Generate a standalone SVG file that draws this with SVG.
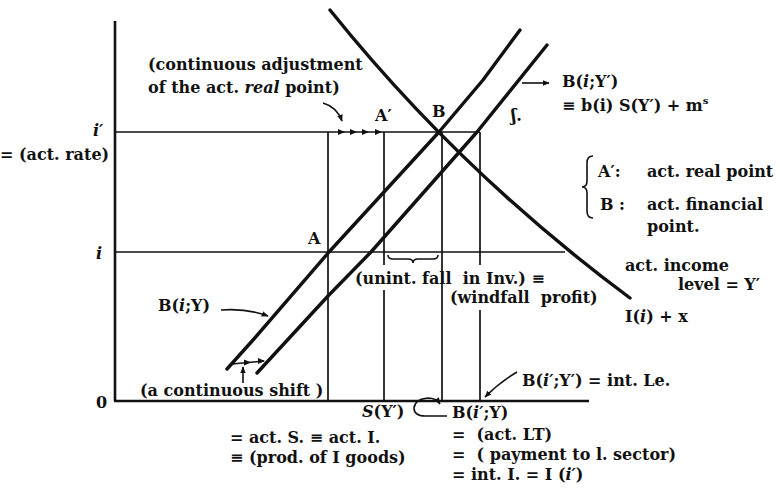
<svg xmlns="http://www.w3.org/2000/svg" width="780" height="488" viewBox="0 0 780 488">
<style>
  .t { font-family: "DejaVu Serif", "Liberation Serif", serif; font-size: 16px; font-weight: bold; fill: #111; white-space: pre; }
  .it { font-style: italic; }
  .ax { stroke: #111; stroke-width: 2.6; fill: none; }
  .grid { stroke: #111; stroke-width: 1.7; fill: none; }
  .curve { stroke: #111; stroke-width: 3.4; fill: none; stroke-linecap: round; stroke-linejoin: round; }
  .arr { stroke: #111; stroke-width: 1.6; fill: none; }
</style>
<defs>
  <marker id="ah" viewBox="0 0 10 10" refX="9" refY="5" markerWidth="7" markerHeight="7" orient="auto" markerUnits="userSpaceOnUse">
    <path d="M0,1 L10,5 L0,9 Z" fill="#111"/>
  </marker>
  <path id="tri" d="M0,0 L-7,-3 L-7,3 Z" fill="#111"/>
</defs>
<rect width="780" height="488" fill="#fff"/>

<g id="axes">
  <line class="ax" x1="115" y1="21" x2="115" y2="401"/>
  <line class="ax" x1="114" y1="401" x2="589" y2="401"/>
</g>

<g id="grid">
  <line class="grid" x1="115" y1="132" x2="480" y2="132"/>
  <line class="grid" x1="115" y1="252" x2="565" y2="252"/>
  <line class="grid" x1="328" y1="132" x2="328" y2="401"/>
  <line class="grid" x1="384" y1="132" x2="384" y2="265"/>
  <line class="grid" x1="384" y1="290" x2="384" y2="401"/>
  <line class="grid" x1="442" y1="132" x2="442" y2="401"/>
  <line class="grid" x1="480" y1="132" x2="480" y2="265"/>
  <line class="grid" x1="480" y1="310" x2="480" y2="401"/>
</g>

<g id="curves">
  <polyline id="B_iY" class="curve" points="227,369 253,340 329,252 439,132 483,80 520,30"/>
  <polyline id="B_iYp" class="curve" points="257,373 328,296 371,252 477,132 547,45"/>
  <path id="I_i" class="curve" d="M330,10 Q460,172 630,298"/>
</g>

<g id="connectors">
  <path class="arr" d="M323,103 Q337,107 342,121" marker-end="url(#ah)"/>
  <use href="#tri" x="345" y="132"/>
  <use href="#tri" x="357" y="132"/>
  <use href="#tri" x="369" y="132"/>
  <use href="#tri" x="382" y="132"/>
  <path class="arr" d="M221,310 Q246,308 268,316" marker-end="url(#ah)"/>
  <path class="arr" d="M522,83 L549,83" marker-end="url(#ah)"/>
  <path class="arr" d="M517,372 Q500,382 485,397" marker-end="url(#ah)"/>
  <path class="arr" d="M447,416 L425,416 Q414,416 414,408 Q415,399 428,398 Q436,398 440,404" marker-end="url(#ah)"/>
  <path class="arr" d="M243,383 L243,367" marker-end="url(#ah)"/>
  <path class="arr" d="M232,364 L264,361"/>
  <use href="#tri" x="251" y="362.5"/>
  <use href="#tri" x="265" y="361"/>
  <path class="arr" d="M388,255 Q388,259 393,259 L408,259 Q413,259 413,263 Q413,259 418,259 L433,259 Q438,259 438,255"/>
  <path class="arr" stroke-width="1.8" d="M593,156 Q587,156 587,163 L587,181 Q587,187 582,187 Q587,187 587,193 L587,211 Q587,218 593,218"/>
</g>

<g id="labels">
  <text class="t" x="148" y="70">(continuous adjustment</text>
  <text class="t" x="148" y="93">of the act. <tspan class="it">real</tspan> point)</text>
  <text class="t" x="375" y="121">A′</text>
  <text class="t" x="432" y="117">B</text>
  <text class="t it" x="93" y="136">i′</text>
  <text class="t" x="0" y="160">= (act. rate)</text>
  <text class="t" x="308" y="244">A</text>
  <text class="t it" x="96" y="259">i</text>
  <text class="t" x="96" y="408">0</text>
  <text class="t" x="158" y="311">B(<tspan class="it">i</tspan>;Y)</text>
  <text class="t" x="140" y="396" font-size="15">(a continuous shift )</text>
  <text class="t" x="362" y="417"><tspan class="it">S</tspan>(Y′)</text>
  <text class="t" x="452" y="418">B(<tspan class="it">i′</tspan>;Y)</text>
  <text class="t" x="452" y="440">=  (act. LT)</text>
  <text class="t" x="452" y="460">=  ( payment to l. sector)</text>
  <text class="t" x="452" y="480">= int. I. = I (<tspan class="it">i′</tspan>)</text>
  <text class="t" x="230" y="443">= act. S. ≡ act. I.</text>
  <text class="t" x="230" y="463">≡ (prod. of I goods)</text>
  <text class="t" x="522" y="386">B(<tspan class="it">i′</tspan>;Y′) = int. Le.</text>
  <text class="t" x="562" y="87">B(<tspan class="it">i</tspan>;Y′)</text>
  <text class="t" x="562" y="111">≡ b(i) S(Y′) + m<tspan font-size="10" dy="-7">s</tspan></text>
  <text class="t" x="511" y="121" font-size="12">ʃ.</text>
  <text class="t" x="598" y="177">A′:</text>
  <text class="t" x="647" y="177">act. real point</text>
  <text class="t" x="600" y="210">B :</text>
  <text class="t" x="647" y="210">act. financial</text>
  <text class="t" x="647" y="232">point.</text>
  <text class="t" x="625" y="271">act. income</text>
  <text class="t" x="678" y="290">level = Y′</text>
  <text class="t" x="625" y="322">I(<tspan class="it">i</tspan>) + x</text>
  <text class="t" x="355" y="284">(unint. fall  in Inv.) ≡</text>
  <text class="t" x="450" y="303">(windfall  profit)</text>
</g>
</svg>
